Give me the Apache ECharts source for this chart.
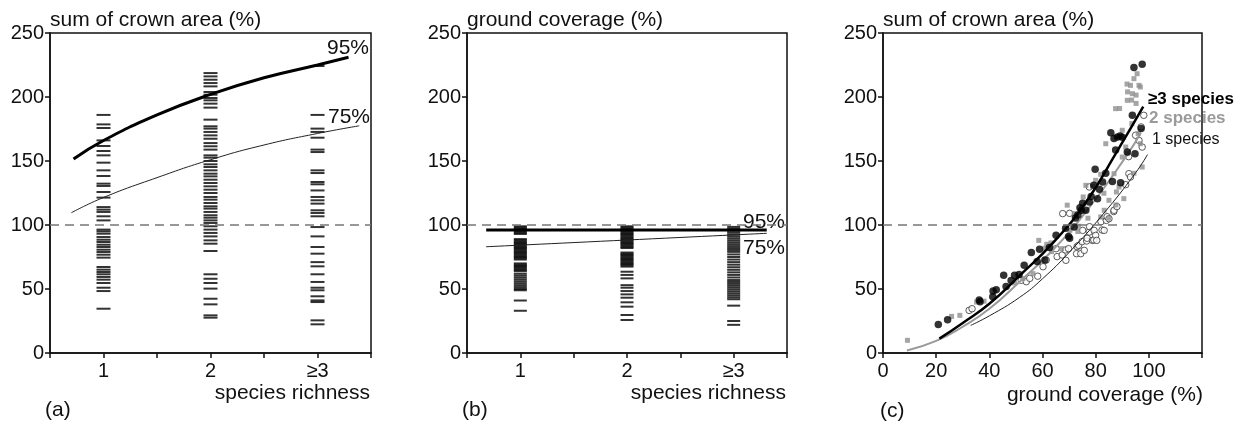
<!DOCTYPE html>
<html>
<head>
<meta charset="utf-8">
<script src="https://cdn.jsdelivr.net/npm/echarts@6/dist/echarts.min.js"></script>
<style>html,body{margin:0;padding:0;background:#fff;}#c{width:1239px;height:425px;}</style>
</head>
<body>
<div id="c"></div>
<script>
// ---------- data ----------
const richnessTicks = {1: '1', 2: '2', 3: '≥3'};
// panel (a): sum of crown area (%) per species-richness class
const crownRich1 = [186,178.6,175.8,166.1,161.7,157.8,154.4,148.7,142.7,138.3,132.3,130.5,125.8,121.4,114,112,110.2,106.8,103.6,96.4,95,93.2,90.6,88.5,86.7,84.6,82.8,80.7,78.9,76.8,74.5,67.2,65.1,63.3,61.5,59.4,57.3,54.7,51,48.4,34.6];
const crownRich2 = [218.7,216.1,213.5,210.9,208.3,203.9,201.8,199.2,197.4,194.8,191.7,182.3,177.1,175.3,172.7,170,167.4,164,161.5,158.9,154.4,152.6,150,147.4,145.3,142.7,140.1,138,135.4,132.8,130.2,127.6,125,121.9,119.8,117.2,114.6,112.8,110.2,107.6,105.7,103.6,101.6,99,96.4,93.8,91.1,88,85.4,79.7,61.5,58,54.7,50.3,42.4,38,29.4,27.6];
const crownRich3 = [224.2,186,175.3,172.7,168.2,158.9,157,142.7,140.6,133.6,131.8,127,121.9,119.3,116.7,111.5,109.4,106.8,98.4,91.1,82.8,77.6,71,67.7,61.5,55.5,51,49,44.3,41.1,39.8,25.5,22.4];
// quantile curves, panel (a)
const crownQ95 = [[0.72,151.5],[1,166],[1.5,186],[2,202],[2.5,215],[3,225],[3.29,231]];
const crownQ75 = [[0.7,109.6],[1,121.5],[1.5,137],[2,151],[2.5,162.5],[3,171.5],[3.39,177.5]];
// panel (b): ground coverage (%) per species-richness class
const coverRich1 = [99,98,97,96,95,94,93,89,88,87,86,85,84,83,82,81,80,79,78,77,76,75,74,73,70,69,68,67,66,65,64,62,60.5,59,57.5,56,54.5,53,51.5,50,49,41,33];
const coverRich2 = [99,98,97,96,95,94,93,92,91,90,89,88,87,86,85,84,83,82,78.5,77.5,76.5,75.5,74.5,73.5,72.5,71.5,70.5,69.5,68.5,67.5,63.5,61,58.3,53,51,48.4,45.8,43.2,39.6,36.2,29.7,25.8];
const coverRich3 = [98.5,97,95.5,94,92.5,91,89.5,88,86.5,85,83.5,82,80.5,79,77,75,73,71,69,67,65,63,61,59,57,55.5,54,52.5,51,49.5,48,46.5,45,43.5,42,37,25,22];
const coverQ95 = [[0.68,96],[3.31,96]];
const coverQ75 = [[0.68,83],[3.31,93.5]];
// panel (c): [ground coverage, sum of crown area]
const pts3 = [[20.8,22.3],[24.3,26],[36.2,41.5],[36.5,40],[41.4,48.5],[41.3,44],[42.6,49.5],[45.4,60.8],[46.3,52],[48.2,56.7],[49.5,60.7],[51.2,61.4],[53.1,68.6],[55.8,78.6],[58,71.5],[58.9,81],[60.9,72.6],[62.6,82.5],[65.1,92],[68.7,97.5],[69.8,91],[70.2,89.6],[71.9,98.4],[72.4,105.5],[73.3,107.8],[74.1,113.5],[74.6,111.5],[75.1,117],[76.3,111.5],[77.6,118],[78.3,122.2],[79.3,131],[79.8,143.5],[80.7,120.6],[81.4,128],[82.6,133.5],[83.8,140.5],[85.7,172],[86.3,134],[86.9,167.5],[87.5,158.5],[88.2,168.8],[89.2,169.5],[90,168.5],[89.4,133],[91.9,157],[93.8,185.7],[94.4,223],[94.8,155.7],[97.1,175.3],[97.5,225.5]];
const pts2 = [[9.2,9.9],[25.8,28.6],[28.9,29.4],[35.2,39.8],[38,40.5],[49.5,54.7],[52.6,58.1],[56.4,62],[58.6,88],[60.9,81.8],[61.6,84.9],[63.2,86],[63.4,79.2],[67.2,81.5],[69.3,115.5],[70.3,95.8],[71.9,108.9],[73.3,94.9],[73.6,99],[75.1,110.2],[75.3,121.9],[76.3,131],[77.1,105.3],[78.8,130.2],[80,134.9],[81.9,139.6],[81.9,106.3],[83.1,124.8],[83.2,111.5],[83.8,163.5],[85,119.3],[85,105.3],[86.9,140.1],[87.5,190.9],[87.6,115.7],[87.8,125.8],[88.8,129.7],[89,191],[90,174],[90,153.1],[90.6,120.6],[91.3,160.9],[91.9,197.4],[91.8,210.1],[91.9,156],[92,204],[93.1,209.1],[93.5,197.6],[93.6,179.2],[93.8,202.6],[94.4,214.3],[94.4,140.4],[95.2,201.5],[95.2,195],[95.6,218.2],[96.3,209.1],[96.8,207.8],[96,171.4],[96.8,163.5],[97.5,145.3]];
const pts1 = [[32.4,33.3],[33.5,34.6],[52,56.8],[53.9,55.7],[55.2,58.3],[58.2,60],[60.2,67.4],[61.4,72.6],[65.1,81.5],[65.5,75.3],[67.4,76.6],[67.6,108.9],[68.6,80.5],[68.8,72.4],[69.8,81.5],[70.2,109.1],[72.8,77.6],[73,83.1],[73.6,84.1],[74.4,77.6],[74.9,87],[75.1,95.8],[75.7,80.2],[76.6,87.5],[76.8,89.6],[77.6,94.5],[77.6,129.7],[77.7,98.7],[78.8,88],[79.3,88.3],[79.4,95.8],[80,91.9],[80.4,88],[82,102.6],[82.4,96.1],[83.2,95.8],[84,103.6],[84.3,106.5],[85,104.9],[86.8,110.5],[86.9,111.5],[88,114.4],[91.3,131.5],[92.4,153.4],[92.5,140.1],[93.1,137.5],[95,170.1],[96.3,166.1],[97.1,176.6],[97.5,160.9],[98.1,185.7]];
const fit3 = [[21.2,11.2],[30,23.5],[40,38.5],[51.4,60.5],[63.9,86],[76.4,118],[87.6,156],[97.9,192.4]];
const fit2 = [[9,2],[20,9.5],[30,20.5],[40,34.5],[51.4,55.7],[63.9,80.5],[76.4,110.5],[91.4,153.4],[97,172]];
const fit1 = [[33,21.6],[40,29],[51.4,43.5],[60,58],[70.2,79],[82.6,108],[95.1,141],[99.5,155]];

// ---------- chart ----------
const FONT = 'Liberation Sans, Arial, sans-serif';
const chart = echarts.init(document.getElementById('c'), null, {renderer: 'canvas'});
const toPts = (cat, arr) => arr.map(v => [cat, v]);

function yAx(gi) {
  return {
    gridIndex: gi, type: 'value', min: 0, max: 250, interval: 50,
    axisLine: {show: true, lineStyle: {color: '#111', width: 1.5}},
    axisTick: {show: true, inside: false, length: 5, lineStyle: {color: '#111', width: 1.5}},
    axisLabel: {color: '#111', fontSize: 20, fontFamily: FONT, margin: 6},
    splitLine: {show: false}
  };
}
function xRich(gi) {
  return {
    gridIndex: gi, type: 'value', min: 0.5, max: 3.5, interval: 0.5,
    axisLine: {show: true, onZero: false, lineStyle: {color: '#111', width: 1.5}},
    axisTick: {show: true, length: 5, lineStyle: {color: '#111', width: 1.5}},
    axisLabel: {color: '#111', fontSize: 20, fontFamily: FONT, margin: 8,
      formatter: v => richnessTicks[v] || '', showMinLabel: true, showMaxLabel: true},
    splitLine: {show: false}
  };
}
const gridBase = {top: 33, height: 320, show: true, borderColor: '#111', borderWidth: 1.5, containLabel: false};
const refLine = {
  silent: true, symbol: 'none', label: {show: false},
  lineStyle: {color: '#777', type: [9, 6], width: 1.5},
  data: [{yAxis: 100}]
};
const dash = (gi, data, w) => ({
  type: 'scatter', xAxisIndex: gi, yAxisIndex: gi, data: data,
  symbol: 'rect', symbolSize: [w, 2], itemStyle: {color: '#000'}, silent: true, z: 2
});
const curve = (gi, data, color, width) => ({
  type: 'line', xAxisIndex: gi, yAxisIndex: gi, data: data, smooth: 0.5,
  showSymbol: false, symbol: 'none', lineStyle: {color: color, width: width}, silent: true, z: 4
});
const txt = (text, x, y, opt) => Object.assign({
  type: 'text', x: x, y: y, silent: true,
  style: Object.assign({text: text, fill: '#111', font: '21px ' + FONT, textAlign: 'left', textVerticalAlign: 'middle'}, opt || {})
});

const option = {
  backgroundColor: '#fff',
  animation: false,
  grid: [
    Object.assign({left: 50, width: 321}, gridBase),
    Object.assign({left: 467, width: 320}, gridBase),
    Object.assign({left: 883, width: 319}, gridBase)
  ],
  xAxis: [
    xRich(0), xRich(1),
    {
      gridIndex: 2, type: 'value', min: 0, max: 120, interval: 20,
      axisLine: {show: true, onZero: false, lineStyle: {color: '#111', width: 1.5}},
      axisTick: {show: true, length: 5, lineStyle: {color: '#111', width: 1.5}},
      axisLabel: {color: '#111', fontSize: 20, fontFamily: FONT, margin: 8,
        formatter: v => (v <= 100 ? String(v) : '')},
      splitLine: {show: false}
    }
  ],
  yAxis: [yAx(0), yAx(1), yAx(2)],
  series: [
    // panel a
    Object.assign(dash(0, toPts(1, crownRich1), 14), {markLine: refLine}),
    dash(0, toPts(2, crownRich2), 14),
    dash(0, toPts(3, crownRich3), 14),
    curve(0, crownQ95, '#000', 3),
    curve(0, crownQ75, '#222', 1),
    // panel b
    Object.assign(dash(1, toPts(1, coverRich1), 13), {markLine: refLine}),
    dash(1, toPts(2, coverRich2), 13),
    dash(1, toPts(3, coverRich3), 13),
    curve(1, coverQ95, '#000', 3),
    curve(1, coverQ75, '#222', 1),
    // panel c
    {type: 'scatter', xAxisIndex: 2, yAxisIndex: 2, data: pts1, symbol: 'circle', symbolSize: 6.5,
      itemStyle: {color: '#fff', borderColor: '#333', borderWidth: 1}, silent: true, z: 2, markLine: refLine},
    {type: 'scatter', xAxisIndex: 2, yAxisIndex: 2, data: pts2, symbol: 'rect', symbolSize: 5,
      itemStyle: {color: '#8e8e8e'}, silent: true, z: 3},
    {type: 'scatter', xAxisIndex: 2, yAxisIndex: 2, data: pts3, symbol: 'circle', symbolSize: 7.5,
      itemStyle: {color: '#000'}, silent: true, z: 4},
    curve(2, fit1, '#222', 1),
    curve(2, fit2, '#999', 2),
    curve(2, fit3, '#000', 2.5)
  ],
  graphic: [
    txt('sum of crown area (%)', 50, 20),
    txt('ground coverage (%)', 467, 20),
    txt('sum of crown area (%)', 883, 20),
    txt('species richness', 370, 393, {textAlign: 'right'}),
    txt('species richness', 786, 393, {textAlign: 'right'}),
    txt('ground coverage (%)', 1203, 395, {textAlign: 'right'}),
    txt('(a)', 45, 410),
    txt('(b)', 462, 410),
    txt('(c)', 880, 411),
    txt('95%', 327, 48),
    txt('75%', 328, 117),
    txt('95%', 743, 222),
    txt('75%', 743, 248),
    txt('≥3 species', 1148, 99, {font: 'bold 17px ' + FONT, fill: '#000'}),
    txt('2 species', 1149, 118, {font: 'bold 17px ' + FONT, fill: '#9a9a9a'}),
    txt('1 species', 1152, 140, {font: '16px ' + FONT, fill: '#111'})
  ]
};
chart.setOption(option);
</script>
</body>
</html>
